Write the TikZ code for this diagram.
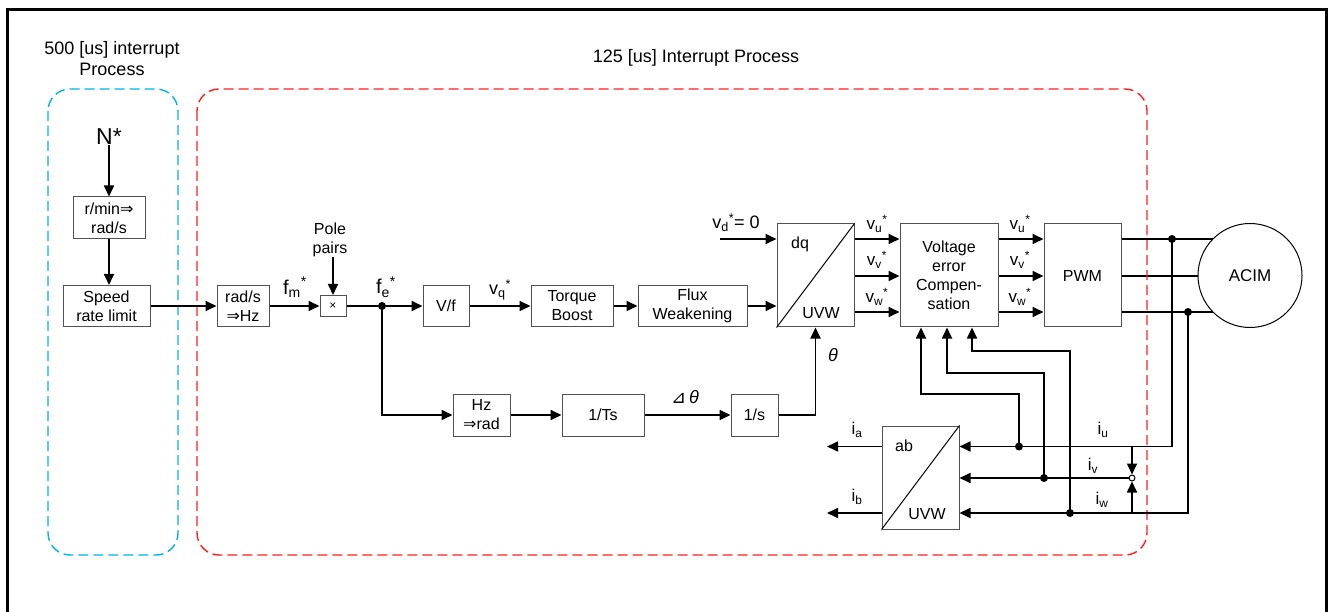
\documentclass[tikz,border=0pt]{standalone}
\usepackage{fontspec}
\setmainfont{Liberation Sans}
\newfontfamily\symfont{DejaVu Sans}
\usetikzlibrary{arrows.meta,backgrounds}
\definecolor{irqBlue}{RGB}{0,176,240}
\definecolor{irqRed}{RGB}{255,30,30}
\definecolor{boxGray}{RGB}{80,80,80}
\newcommand{\starsig}[2]{#1\textsubscript{#2}\textsuperscript{*}}

\begin{document}
\begin{tikzpicture}[x=1pt,y=-1pt,
  blk/.style={draw=boxGray,line width=1pt,inner sep=0pt,align=center,font=\fontsize{16}{19}\selectfont},
  sig/.style={line width=1.7pt,-{Triangle[length=11pt,width=10pt]}},
  wire/.style={line width=1.7pt},
  jdot/.style={circle,fill,inner sep=0pt,minimum size=8pt},
  lbl/.style={inner sep=0pt,align=center,font=\fontsize{17}{20}\selectfont},
  zone/.style={line width=1.4pt,dash pattern=on 10pt off 5pt,rounded corners=22pt}]
\useasboundingbox (0,0) rectangle (1328,612);
\draw[line width=3pt] (7,616) -- (7,10) -- (1326,10) -- (1326,616);
\draw[zone,irqBlue] (48,89) rectangle (178,555);
\draw[zone,irqRed] (197,89) rectangle (1147,555);
\node[lbl,font=\fontsize{18}{21}\selectfont] (slowtitle) at (112,58.5) {500 [us] interrupt\\Process};
\node[lbl,font=\fontsize{18}{21}\selectfont] (fasttitle) at (696,58) {125 [us] Interrupt Process};

\node[lbl,font=\fontsize{23}{25}\selectfont] (nstar) at (109,137) {N*};
\node[blk,minimum width=72pt,minimum height=42pt] (rpm) at (109,218) {r/min{\symfont ⇒}\\rad/s};
\node[blk,minimum width=87pt,minimum height=41pt] (rate) at (106.5,306) {Speed\\rate limit};
\node[blk,minimum width=52pt,minimum height=41pt] (radhz) at (243,306) {rad/s\\{\symfont ⇒}Hz};
\node[blk,minimum width=26pt,minimum height=21pt,font=\fontsize{12}{14}\selectfont] (mult) at (333,306) {×};
\node[lbl,font=\fontsize{16}{19}\selectfont] (pole) at (330,240) {Pole\\pairs};
\node[jdot] (fe) at (382,306) {};
\node[blk,minimum width=46pt,minimum height=41pt] (vf) at (446,306) {V/f};
\node[blk,minimum width=82pt,minimum height=41pt] (boost) at (572,306) {Torque\\Boost};
\node[blk,minimum width=109pt,minimum height=41pt] (weak) at (692.5,306) {Flux\\Weakening};
\node[blk,minimum width=77pt,minimum height=103pt] (dq) at (815.5,275.5) {};
\node[blk,minimum width=98pt,minimum height=103pt] (comp) at (949,275.5) {Voltage\\error\\Compen-\\sation};
\node[blk,minimum width=77pt,minimum height=103pt] (pwm) at (1082.5,275.5) {PWM};
\node[draw,circle,line width=1pt,fill=white,minimum size=104pt,inner sep=0pt,font=\fontsize{17}{20}\selectfont] (acim) at (1250,275.5) {ACIM};
\node[blk,minimum width=57pt,minimum height=42pt] (hzrad) at (481.5,415) {Hz\\{\symfont ⇒}rad};
\node[blk,minimum width=82pt,minimum height=42pt] (invts) at (603,415) {1/Ts};
\node[blk,minimum width=47pt,minimum height=42pt] (integ) at (754.5,415) {1/s};
\node[blk,minimum width=77pt,minimum height=103pt] (ab) at (920.5,477.5) {};
\draw[line width=1pt] (dq.south west) -- (dq.north east);
\draw[line width=1pt] (ab.south west) -- (ab.north east);
\node[lbl,font=\fontsize{16}{19}\selectfont] (dqtop) at (800,244) {dq};
\node[lbl,font=\fontsize{16}{19}\selectfont] (dqbot) at (821,313) {UVW};
\node[lbl,font=\fontsize{16}{19}\selectfont] (abtop) at (904,446) {ab};
\node[lbl,font=\fontsize{16}{19}\selectfont] (abbot) at (927,514) {UVW};

\coordinate (ru) at (0,239);
\coordinate (rv) at (0,276);
\coordinate (rw) at (0,312);
\coordinate (iu) at (0,446.5);
\coordinate (iv) at (0,478);
\coordinate (iw) at (0,513);
\coordinate (vdin) at (720,239);
\coordinate (cu) at (921,394);
\coordinate (cv) at (947,373);
\coordinate (cw) at (972,351);
\coordinate (iaout) at (827,446.5);
\coordinate (ibout) at (827,513);

\draw[sig] (nstar) -- (rpm);
\draw[sig] (rpm) -- (rpm |- rate.north);
\draw[sig] (rate) -- (radhz);
\draw[sig] (radhz) -- (mult);
\draw[sig] (pole.south -| mult) -- (mult);
\draw[wire] (mult) -- (fe);
\draw[sig] (fe) -- (vf);
\draw[sig] (vf) -- (boost);
\draw[sig] (boost) -- (weak);
\draw[sig] (weak) -- (dq.west |- weak);
\draw[sig] (vdin) -- (dq.west |- ru);
\foreach \r in {ru,rv,rw} {
  \draw[sig] (dq.east |- \r) -- (comp.west |- \r);
  \draw[sig] (comp.east |- \r) -- (pwm.west |- \r);
}
\begin{pgfonlayer}{background}
\foreach \r in {ru,rv,rw}
  \draw[wire] (pwm.east |- \r) -- (acim.center |- \r);
\end{pgfonlayer}
\draw[sig] (fe.center) |- (hzrad);
\draw[sig] (hzrad) -- (invts);
\draw[sig] (invts) -- (integ);
\draw[sig] (integ) -| (dq.south);

\node[jdot] (tapu) at (1172,239) {};
\node[jdot] (tapw) at (1188,312) {};
\draw[sig] (tapu.center) |- (ab.east |- iu);
\draw[sig] (tapw.center) |- (ab.east |- iw);
\node[draw,circle,fill=white,line width=1pt,inner sep=0pt,minimum size=6pt] (vsum) at (1132,478) {};
\draw[sig] (vsum) -- (ab.east |- iv);
\draw[sig] (vsum |- iu) -- (vsum);
\draw[sig] (vsum |- iw) -- (vsum);
\node[jdot] (fbu) at (1019,446.5) {};
\node[jdot] (fbv) at (1044,478) {};
\node[jdot] (fbw) at (1070,513) {};
\draw[sig] (fbu.center) |- (cu) -- (cu |- comp.south);
\draw[sig] (fbv.center) |- (cv) -- (cv |- comp.south);
\draw[sig] (fbw.center) |- (cw) -- (cw |- comp.south);
\draw[sig] (ab.west |- iu) -- (iaout);
\draw[sig] (ab.west |- iw) -- (ibout);

\node[lbl,font=\fontsize{20}{22}\selectfont] (fmlbl) at (295,287) {\starsig{f}{m}};
\node[lbl,font=\fontsize{20}{22}\selectfont] (felbl) at (386,287) {\starsig{f}{e}};
\node[lbl,font=\fontsize{18}{21}\selectfont] (vqlbl) at (500,290) {\starsig{v}{q}};
\node[lbl,font=\fontsize{18}{21}\selectfont] (vdlbl) at (736,223) {\starsig{v}{d}= 0};
\node[lbl] (vu1) at (877,224) {\starsig{v}{u}};
\node[lbl] (vv1) at (877,260) {\starsig{v}{v}};
\node[lbl] (vw1) at (877,297) {\starsig{v}{w}};
\node[lbl] (vu2) at (1020,224) {\starsig{v}{u}};
\node[lbl] (vv2) at (1020,260) {\starsig{v}{v}};
\node[lbl] (vw2) at (1020,297) {\starsig{v}{w}};
\node[lbl,font=\fontsize{18}{21}\itshape] (thlbl) at (833,355) {θ};
\node[lbl,font=\fontsize{18}{21}\selectfont] (dthlbl) at (685,397) {{\symfont ⊿}\,\itshape θ};
\node[lbl] (iulbl) at (1103,430) {i\textsubscript{u}};
\node[lbl] (ivlbl) at (1093,466) {i\textsubscript{v}};
\node[lbl] (iwlbl) at (1102,500) {i\textsubscript{w}};
\node[lbl] (ialbl) at (857,430) {i\textsubscript{a}};
\node[lbl] (iblbl) at (857,497) {i\textsubscript{b}};
\end{tikzpicture}
\end{document}
